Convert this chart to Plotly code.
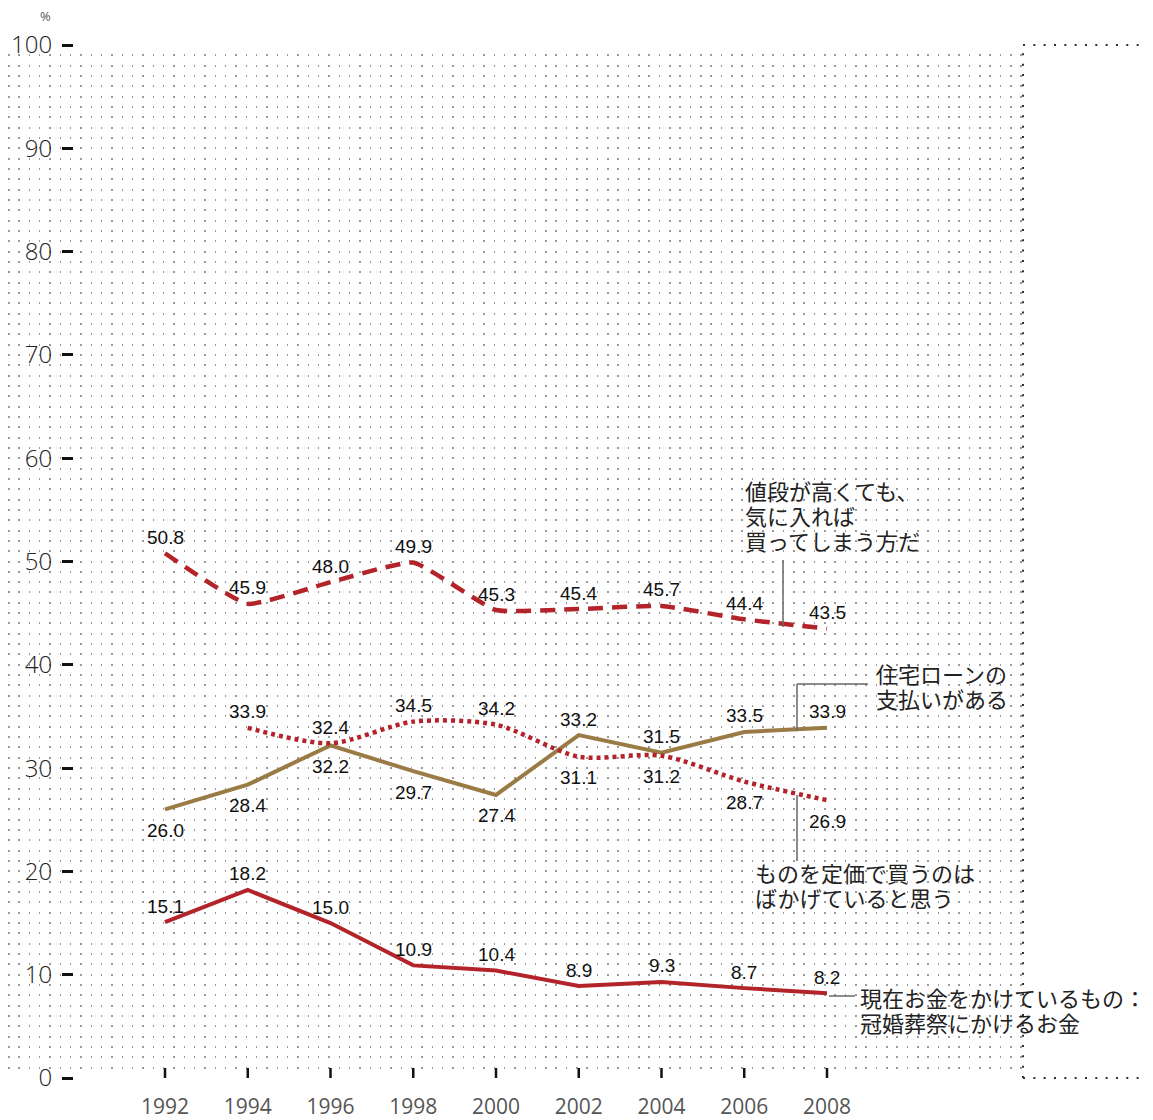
import plotly.graph_objects as go

years = [1992, 1994, 1996, 1998, 2000, 2002, 2004, 2006, 2008]
expensive_buy = [50.8, 45.9, 48.0, 49.9, 45.3, 45.4, 45.7, 44.4, 43.5]
housing_loan = [26.0, 28.4, 32.2, 29.7, 27.4, 33.2, 31.5, 33.5, 33.9]
list_price_silly = [None, 33.9, 32.4, 34.5, 34.2, 31.1, 31.2, 28.7, 26.9]
ceremonies = [15.1, 18.2, 15.0, 10.9, 10.4, 8.9, 9.3, 8.7, 8.2]

name_expensive = ["値段が高くても、", "気に入れば", "買ってしまう方だ"]
name_housing = ["住宅ローンの", "支払いがある"]
name_listprice = ["ものを定価で買うのは", "ばかげていると思う"]
name_ceremony = ["現在お金をかけているもの：", "冠婚葬祭にかけるお金"]

y_ticks = [0, 10, 20, 30, 40, 50, 60, 70, 80, 90, 100]

RED = "#b3242a"
TAN = "#9a7b45"

# label placement (style): 1 = above, -1 = below, 0 = none
place_expensive = [1] * 9
place_housing = [-1, -1, -1, -1, -1, 1, 1, 1, 1]
place_listprice = [0, 1, 1, 1, 1, -1, -1, -1, -1]
place_ceremony = [1] * 9

OFF = 8  # page body margin
W, H = 1153 - OFF, 1120 - OFF
ML, MR, MT, MB = 0, 130, 45 - OFF, 1120 - 1078
PW = W - ML - MR
PH = H - MT - MB
px_per_year = (827 - 165) / 16.0
x0 = 1992 - (165 - OFF) / px_per_year
x1 = x0 + PW / px_per_year


def yr(px):  # page pixel -> year
    return x0 + (px - OFF) / px_per_year


def val(py):  # page pixel -> value
    return (1078 - py) / ((1078 - 45) / 100.0)


fig = go.Figure()
fig.add_trace(go.Scatter(x=years, y=expensive_buy, mode="lines",
                         line=dict(color=RED, width=4.5, dash="15px,9px", shape="spline", smoothing=0.4),
                         hoverinfo="skip"))
fig.add_trace(go.Scatter(x=years, y=housing_loan, mode="lines",
                         line=dict(color=TAN, width=4), hoverinfo="skip"))
fig.add_trace(go.Scatter(x=years, y=list_price_silly, mode="lines", connectgaps=False,
                         line=dict(color=RED, width=4.5, dash="4px,4px", shape="spline", smoothing=0.8),
                         hoverinfo="skip"))
fig.add_trace(go.Scatter(x=years, y=ceremonies, mode="lines",
                         line=dict(color=RED, width=4), hoverinfo="skip"))

annotations = []
for vals, places in [(expensive_buy, place_expensive), (housing_loan, place_housing),
                     (list_price_silly, place_listprice), (ceremonies, place_ceremony)]:
    for xv, yv, p in zip(years, vals, places):
        if yv is None or p == 0:
            continue
        annotations.append(dict(x=xv, y=yv, text=f"{yv:.1f}", showarrow=False,
                                xanchor="center", yanchor="middle",
                                yshift=16 if p > 0 else -21,
                                font=dict(family="Liberation Sans, Arial", size=19, color="#111")))

jp_font = dict(family="Noto Sans CJK JP", size=22, color="#222")
for lines, px, py in [(name_expensive, 744, 490), (name_housing, 875, 673),
                      (name_listprice, 754, 872), (name_ceremony, 859, 997)]:
    for i, line in enumerate(lines):
        annotations.append(dict(x=yr(px), y=val(py), yshift=-25 * i, text=line, showarrow=False,
                                xanchor="left", yanchor="middle", borderpad=0, font=jp_font))

annotations.append(dict(x=(45 - OFF) / PW, y=1 + (45 - 16) / PH, xref="paper", yref="paper",
                        xanchor="center", yanchor="middle",
                        text="%", showarrow=False, font=dict(family="Open Sans", size=13, color="#555")))

lead = dict(color="#666", width=1.5)
shapes = [
    dict(type="line", x0=yr(783), x1=yr(783), y0=val(627), y1=val(560), line=lead),
    dict(type="line", x0=yr(797), x1=yr(797), y0=val(731), y1=val(684), line=lead),
    dict(type="line", x0=yr(797), x1=yr(868), y0=val(684), y1=val(684), line=lead),
    dict(type="line", x0=yr(797), x1=yr(797), y0=val(795), y1=val(861), line=lead),
    dict(type="line", x0=yr(829), x1=yr(855), y0=val(996), y1=val(996), line=lead),
]
# x-axis tick marks (pointing up into the plot)
for yv in years:
    shapes.append(dict(type="line", x0=yv, x1=yv, y0=0, y1=val(1068),
                       line=dict(color="#111", width=2.5)))
edge = dict(color="#333", width=2, dash="2px,8.33px")
shapes += [
    dict(type="line", xref="paper", yref="paper", x0=1, x1=W / PW, y0=1, y1=1, line=edge),
    dict(type="line", xref="paper", yref="paper", x0=1, x1=W / PW, y0=0, y1=0, line=edge),
    dict(type="line", xref="paper", yref="paper", x0=1, x1=1, y0=0, y1=1, line=edge),
]

dot = "1.5px,8.83px"
fig.update_layout(
    width=W, height=H,
    margin=dict(l=ML, r=MR, t=MT, b=MB, autoexpand=False),
    paper_bgcolor="white", plot_bgcolor="white",
    showlegend=False,
    annotations=annotations,
    shapes=shapes,
    xaxis=dict(range=[x0, x1], tickvals=years, ticktext=[str(y) for y in years],
               ticks="", automargin=False,
               showgrid=False, zeroline=False, showline=False, ticklabelstandoff=14,
               tickfont=dict(family="Open Sans", size=21, color="#555")),
    yaxis=dict(range=[0, 100], tickvals=y_ticks, anchor="free", position=(73 - OFF) / PW,
               ticks="outside", ticklen=11, tickwidth=3, tickcolor="#111", automargin=False,
               showline=False, zeroline=False, ticklabelstandoff=5,
               showgrid=True, gridcolor="#999", gridwidth=1.5, griddash=dot,
               minor=dict(dtick=1, showgrid=True, gridcolor="#999", gridwidth=1.5, griddash=dot),
               tickfont=dict(family="Open Sans", size=24, color="#222", weight=300)),
)

fig.write_html("out.html")
